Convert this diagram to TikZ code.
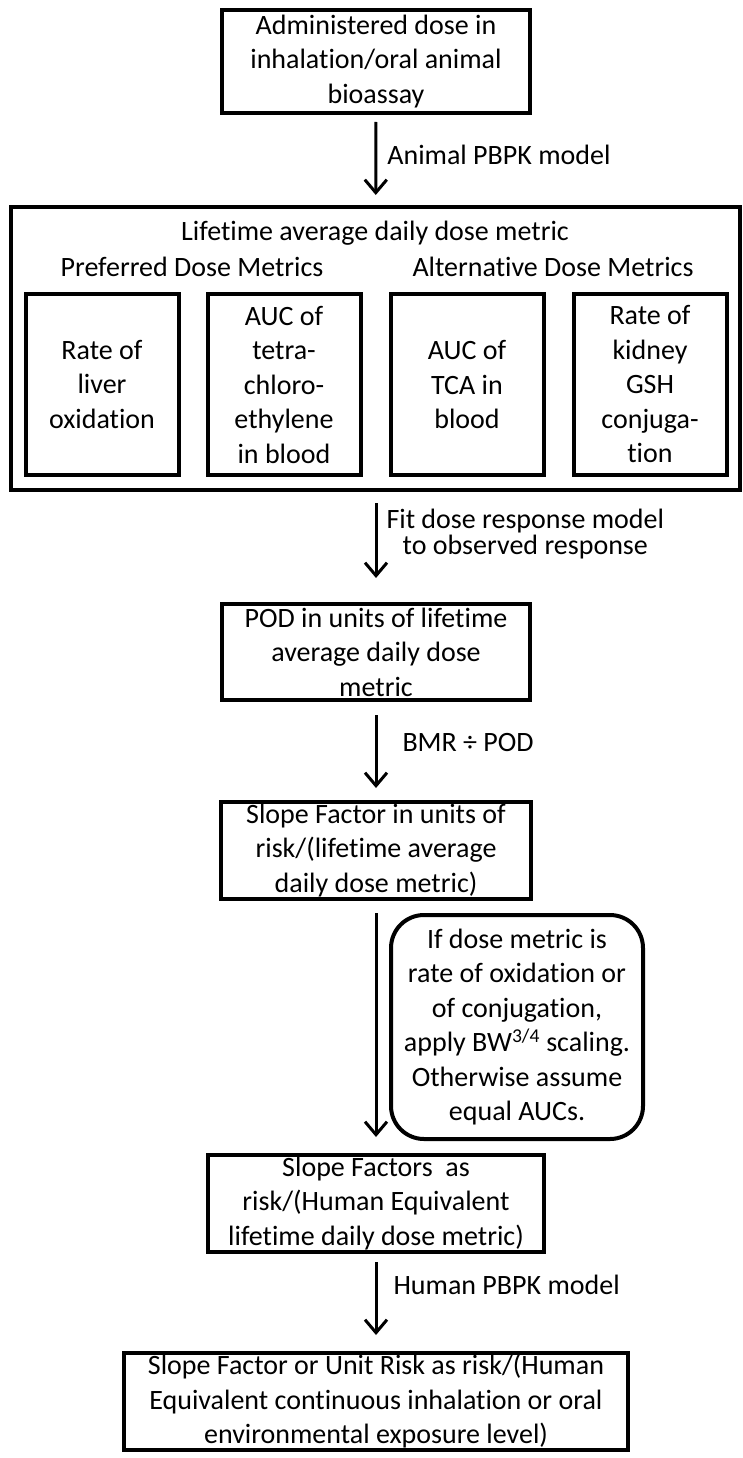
\documentclass[tikz,border=0pt]{standalone}
\usepackage{fontspec}
\setmainfont{Carlito}[Ligatures=NoCommon]
\usetikzlibrary{shapes, arrows.meta, positioning}

\begin{document}
\begin{tikzpicture}[x=1pt, y=-1pt]
        % box and arrow styles
        \tikzstyle{process} = [rectangle, draw=black, line width=4pt, inner sep=0pt, align=center, font=\fontsize{28}{34.5}\selectfont]
        \tikzstyle{metricbox} = [process, minimum width=153pt, minimum height=181pt]
        \tikzstyle{note} = [process, rounded corners=33pt]
        \tikzstyle{heading} = [align=center, inner sep=0pt, font=\fontsize{28}{34.5}\selectfont]
        \tikzstyle{arrow} = [line width=3pt, -{Straight Barb[length=13pt, width=22pt, line width=3pt]}]
        \tikzstyle{steplabel} = [anchor=west, align=center, inner sep=0pt, font=\fontsize{28}{26}\selectfont]

        \path[use as bounding box, fill=white] (0,0) rectangle (743,1458);

        % Step 1: animal bioassay
        \node (admin) [process, minimum width=308pt, minimum height=103pt] at (376,61.5) {Administered dose in\\inhalation/oral animal\\bioassay};

        % Step 2: dose metrics
        \node (lifetime) [process, minimum width=729pt, minimum height=283pt] at (375.5,348.5) {};
        \node (lifetimetitle) [heading] at (375,233) {Lifetime average daily dose metric};
        \node (preferred) [heading] at (192,267) {Preferred Dose Metrics};
        \node (alternative) [heading] at (553,267) {Alternative Dose Metrics};
        \node (liver) [metricbox] at (102,384.5) {Rate of\\liver\\oxidation};
        \node (aucperc) [metricbox] at (284,384.5) {AUC of\\tetra-\\chloro-\\ethylene\\in blood};
        \node (auctca) [metricbox] at (467,384.5) {AUC of\\TCA in\\blood};
        \node (kidney) [metricbox] at (650,384.5) {Rate of\\kidney\\GSH\\conjuga-\\tion};

        % Step 3: point of departure
        \node (pod) [process, minimum width=308pt, minimum height=96pt] at (376,652) {POD in units of lifetime\\average daily dose\\metric};

        % Step 4: animal slope factor
        \node (slope) [process, minimum width=310pt, minimum height=97pt] at (376,850.5) {Slope Factor in units of\\risk/(lifetime average\\daily dose metric)};

        % Step 5: scaling note
        \node (scaling) [note, minimum width=252pt, minimum height=224pt] at (517,1027) {If dose metric is\\rate of oxidation or\\of conjugation,\\apply BW\textsuperscript{3/4} scaling.\\Otherwise assume\\equal AUCs.};

        % Step 6: human equivalent slope factors
        \node (slopehuman) [process, minimum width=336pt, minimum height=97pt] at (376,1203.5) {Slope Factors\ \ as\\risk/(Human Equivalent\\lifetime daily dose metric)};

        % Step 7: unit risk
        \node (unitrisk) [process, minimum width=504pt, minimum height=97pt] at (376,1401.5) {Slope Factor or Unit Risk as risk/(Human\\Equivalent continuous inhalation or oral\\environmental exposure level)};

        % arrows
        \draw [arrow, shorten <=7pt, shorten >=10pt] (admin) -- node[steplabel, pos=0.44, xshift=10pt] {Animal PBPK model} (lifetime);
        \draw [arrow, shorten <=11pt, shorten >=24pt] (lifetime.south -| admin) -- node[steplabel, pos=0.38, xshift=9pt] {Fit dose response model\\to observed response} (pod);
        \draw [arrow, shorten <=13pt, shorten >=12pt] (pod) -- node[steplabel, pos=0.41, xshift=25pt] {BMR ÷ POD} (slope);
        \draw [arrow, shorten <=12pt, shorten >=16pt] (slope) -- (slopehuman);
        \draw [arrow, shorten <=8pt, shorten >=16pt] (slopehuman) -- node[steplabel, pos=0.32, xshift=16pt] {Human PBPK model} (unitrisk);

    \end{tikzpicture}
\end{document}
